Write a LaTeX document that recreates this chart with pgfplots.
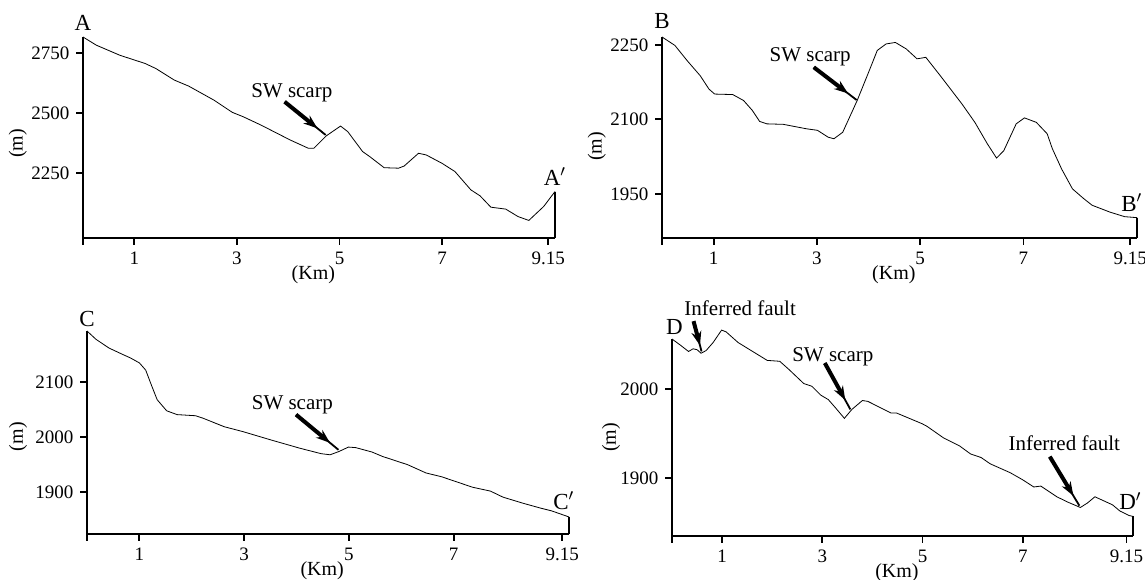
\documentclass[border=0pt]{standalone}
\usepackage{fontspec}
\setmainfont{Liberation Serif}
\usepackage{pgfplots}
\pgfplotsset{compat=1.18}
\usetikzlibrary{arrows.meta,calc}

% thick arrow shaft with head, thin line on to the profile
\newcommand{\pointer}[4]{%
  \draw[line width=0.9pt] (axis cs:#1,#2) -- (axis cs:#3,#4);
  \draw[line width=2pt,-{Stealth[length=7pt,width=5pt]}] (axis cs:#1,#2) -- ($(axis cs:#1,#2)!0.8!(axis cs:#3,#4)$);}

\tikzset{
  tag/.style={font=\fontsize{11.5}{12}\selectfont, anchor=south, inner sep=0pt},
  note/.style={font=\fontsize{10.5}{12}\selectfont},
}
\pgfplotsset{
  profile/.style={
    scale only axis, clip=false,
    anchor=south west,
    axis x line=bottom, axis y line=left,
    axis line style={-, line width=1.3pt},
    tick align=outside, major tick length=3.3pt,
    tick style={line width=0.9pt, black},
    xmin=0, xmax=9.2,
    xtick={0,1,3,5,7,9.07}, xticklabels={,1,3,5,7,9.15},
    scaled ticks=false,
    /pgf/number format/1000 sep={},
    /pgf/number format/assume math mode=true,
    tick label style={font=\fontsize{9.5}{10}\selectfont},
    xlabel={(Km)}, ylabel={(m)},
    label style={font=\fontsize{10}{11}\selectfont},
    xlabel style={at={(axis description cs:0.488,0)}, anchor=north, yshift=-13.5pt, inner sep=0pt},
    cycle list={{black, no markers, line width=1.3pt, smooth, tension=0.45}},
  },
  edge/.style={black, no markers, line width=1.3pt, forget plot},
}

\begin{document}
\begin{tikzpicture}
\useasboundingbox (0,0) rectangle (572.5pt,289.5pt);

% ---- A ----
\begin{axis}[profile, at={(41.5pt,170.5pt)}, width=236pt, height=100.5pt,
  ymin=1981, ymax=2816, ytick={2250,2500,2750},
  ylabel style={at={(axis description cs:-0.138,0.47)}, anchor=center}]
\addplot coordinates {
  (0,2816) (0.26,2782) (0.72,2740) (1.21,2706) (1.42,2685) (1.78,2637)
  (2.06,2612) (2.55,2554) (2.91,2503) (3.12,2485) (3.47,2450) (4.04,2388)
  (4.39,2354) (4.5,2354) (4.74,2405) (5.02,2446) (5.16,2423) (5.45,2340)
  (5.59,2319) (5.87,2273) (6.15,2271) (6.26,2280) (6.54,2333) (6.69,2326)
  (7.0,2291) (7.25,2257) (7.56,2181) (7.74,2156) (7.95,2109) (8.24,2101)
  (8.48,2070) (8.69,2054) (8.98,2112) (9.2,2174)};
\addplot[edge] coordinates {(9.2,2174) (9.2,1981)};
\node[tag, yshift=3pt] at (axis cs:0,2816) {A};
\node[tag, yshift=3pt] at (axis cs:9.2,2174) {A$'$};
\node[note] at (axis cs:4.07,2584) {SW scarp};
\pointer{3.93}{2547}{4.73}{2409}
\end{axis}

% ---- B ----
\begin{axis}[profile, at={(331pt,170.5pt)}, width=237.5pt, height=100.5pt,
  ymin=1861, ymax=2266, ytick={1950,2100,2250},
  ylabel style={at={(axis description cs:-0.137,0.455)}, anchor=center}]
\addplot coordinates {
  (0,2266) (0.25,2249) (0.49,2218) (0.74,2188) (0.91,2161) (1.02,2151)
  (1.37,2150) (1.58,2138) (1.75,2118) (1.89,2096) (2.03,2091) (2.35,2090)
  (2.80,2081) (3.01,2078) (3.22,2064) (3.33,2061) (3.50,2074) (3.78,2138)
  (3.99,2192) (4.17,2239) (4.34,2252) (4.52,2255) (4.73,2242) (4.94,2222)
  (5.11,2225) (5.39,2188) (5.81,2131) (6.06,2094) (6.30,2051) (6.48,2022)
  (6.62,2037) (6.86,2091) (7.02,2103) (7.25,2094) (7.46,2071) (7.56,2041)
  (7.74,2000) (7.95,1960) (8.16,1941) (8.33,1927) (8.68,1913) (8.96,1904)
  (9.2,1902)};
\addplot[edge] coordinates {(9.2,1902) (9.2,1861)};
\node[tag, yshift=4pt] at (axis cs:0,2266) {B};
\node[tag, yshift=3pt] at (axis cs:9.1,1902) {B$'$};
\node[note] at (axis cs:2.87,2227) {SW scarp};
\pointer{2.94}{2205}{3.77}{2139}
\end{axis}

% ---- C ----
\begin{axis}[profile, at={(43.5pt,22.5pt)}, width=241pt, height=101.5pt,
  ymin=1824, ymax=2193, ytick={1900,2000,2100},
  ylabel style={at={(axis description cs:-0.143,0.48)}, anchor=center}]
\addplot coordinates {
  (0,2193) (0.17,2178) (0.42,2162) (0.69,2150) (0.83,2144) (1.0,2135)
  (1.12,2122) (1.24,2092) (1.34,2068) (1.52,2048) (1.72,2041) (2.07,2039)
  (2.20,2035) (2.62,2019) (2.98,2010) (3.51,1995) (4.06,1980) (4.47,1970)
  (4.64,1968) (4.81,1974) (4.99,1982) (5.13,1981) (5.44,1973) (5.64,1965)
  (6.12,1950) (6.47,1935) (6.77,1928) (7.36,1909) (7.70,1902) (7.94,1891)
  (8.32,1880) (8.66,1871) (8.87,1866) (9.11,1858) (9.2,1855)};
\addplot[edge] coordinates {(9.2,1855) (9.2,1824)};
\node[tag, yshift=2pt] at (axis cs:0,2193) {C};
\node[tag, yshift=3pt] at (axis cs:9.1,1857) {C$'$};
\node[note] at (axis cs:3.92,2059) {SW scarp};
\pointer{3.99}{2041}{4.80}{1977}
\end{axis}

% ---- D ----
\begin{axis}[profile, at={(336pt,21.5pt)}, width=230.5pt, height=98.5pt,
  ymin=1835, ymax=2056, ytick={1900,2000},
  ylabel style={at={(axis description cs:-0.132,0.5)}, anchor=center}]
\addplot coordinates {
  (0,2056) (0.17,2049) (0.33,2042) (0.42,2045) (0.50,2044) (0.58,2040)
  (0.68,2043) (0.82,2052) (0.99,2066) (1.08,2064) (1.32,2052) (1.61,2042)
  (1.90,2032) (2.15,2031) (2.33,2022) (2.63,2006) (2.79,2003) (2.97,1993)
  (3.12,1988) (3.26,1979) (3.44,1967) (3.59,1977) (3.80,1987) (3.91,1986)
  (4.37,1973) (4.48,1973) (4.99,1961) (5.09,1958) (5.42,1945) (5.74,1936)
  (5.96,1927) (6.17,1923) (6.35,1916) (6.75,1906) (7.0,1898) (7.22,1890)
  (7.36,1891) (7.68,1879) (7.90,1873) (8.15,1867) (8.29,1872) (8.44,1879)
  (8.79,1870) (8.94,1863) (9.12,1858) (9.2,1857)};
\addplot[edge] coordinates {(9.2,1857) (9.2,1835)};
\node[tag, yshift=2pt] at (axis cs:0.05,2056) {D};
\node[tag, yshift=3pt] at (axis cs:9.15,1857) {D$'$};
\node[note] at (axis cs:1.36,2091) {Inferred fault};
\pointer{0.43}{2076}{0.59}{2042}
\node[note] at (axis cs:3.21,2036) {SW scarp};
\pointer{3.05}{2029}{3.56}{1977}
\node[note] at (axis cs:7.83,1939) {Inferred fault};
\pointer{7.54}{1924}{8.13}{1869}
\end{axis}
\end{tikzpicture}
\end{document}
